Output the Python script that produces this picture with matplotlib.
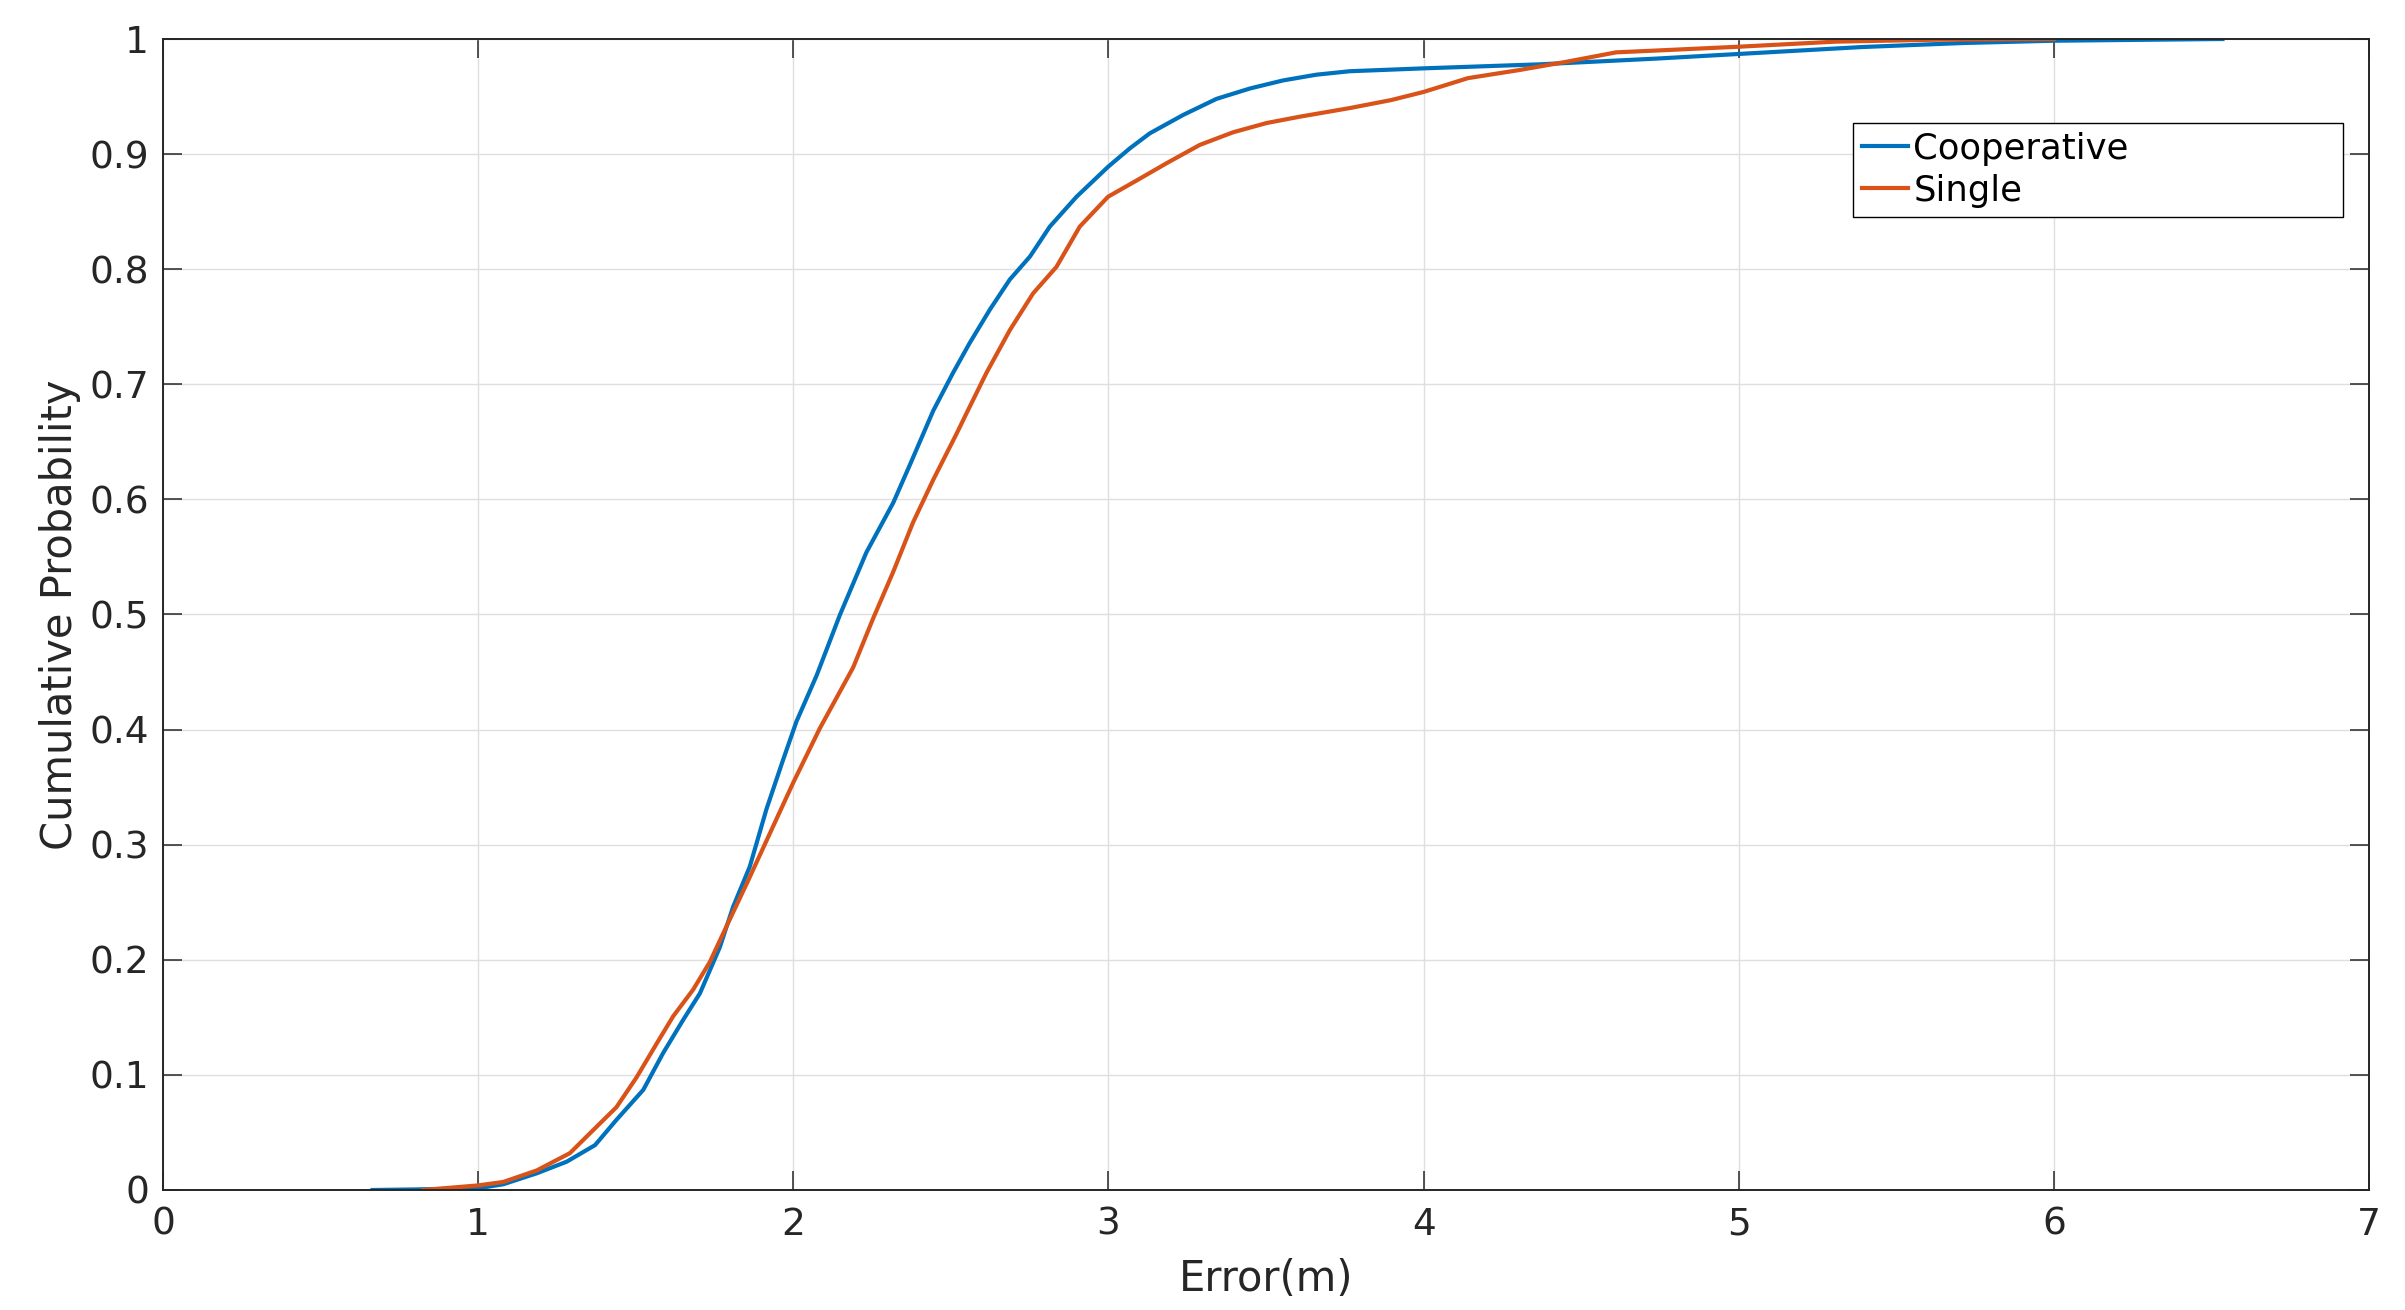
import matplotlib
matplotlib.use("Agg")
import matplotlib.pyplot as plt
from matplotlib.ticker import FuncFormatter

coop_x = [0.665, 0.80, 1.0, 1.08, 1.186, 1.281, 1.371, 1.439, 1.524, 1.587, 1.651, 1.704, 1.767, 1.809,
          1.862, 1.915, 1.968, 2.010, 2.074, 2.148, 2.232, 2.317, 2.370, 2.444, 2.507, 2.560, 2.624, 2.687,
          2.751, 2.814, 2.899, 2.999, 3.068, 3.131, 3.237, 3.343, 3.449, 3.554, 3.660, 3.766, 4.0, 4.37,
          4.74, 5.0, 5.39, 5.71, 6.0, 6.535]
coop_y = [0.0, 0.0005, 0.0015, 0.005, 0.0145, 0.0246, 0.039, 0.061, 0.087, 0.119, 0.148, 0.171, 0.211, 0.246,
          0.281, 0.331, 0.374, 0.407, 0.447, 0.4997, 0.554, 0.597, 0.630, 0.677, 0.710, 0.736, 0.765, 0.791,
          0.811, 0.837, 0.863, 0.889, 0.905, 0.918, 0.934, 0.948, 0.957, 0.964, 0.969, 0.972, 0.9745, 0.978,
          0.983, 0.987, 0.993, 0.9965, 0.9985, 1.0]

single_x = [0.826, 1.0, 1.08, 1.186, 1.291, 1.376, 1.439, 1.503, 1.566, 1.619, 1.682, 1.735, 1.788, 1.857,
            2.0, 2.084, 2.190, 2.254, 2.317, 2.380, 2.444, 2.518, 2.550, 2.613, 2.687, 2.761, 2.835, 2.909,
            2.999, 3.089, 3.184, 3.290, 3.396, 3.502, 3.607, 3.766, 3.898, 4.0, 4.141, 4.303, 4.449, 4.611,
            4.74, 5.0, 5.307, 5.63, 6.0]
single_y = [0.0, 0.004, 0.007, 0.017, 0.032, 0.055, 0.072, 0.098, 0.127, 0.151, 0.174, 0.198, 0.229, 0.269,
            0.354, 0.401, 0.454, 0.497, 0.537, 0.580, 0.617, 0.657, 0.675, 0.710, 0.747, 0.779, 0.802, 0.837,
            0.863, 0.877, 0.892, 0.908, 0.919, 0.927, 0.9325, 0.940, 0.947, 0.954, 0.966, 0.973, 0.980, 0.9884,
            0.990, 0.9933, 0.9977, 0.9994, 1.0]

labels = ["Cooperative", "Single"]
x_ticks = [0, 1, 2, 3, 4, 5, 6, 7]
y_ticks = [0, 0.1, 0.2, 0.3, 0.4, 0.5, 0.6, 0.7, 0.8, 0.9, 1]

plt.rcParams['font.family'] = ['DejaVu Sans']
dark = '#262626'

fig = plt.figure(figsize=(24.05, 13.10), dpi=100)
ax = fig.add_axes([163 / 2405, 1 - 1190 / 1310, 2206 / 2405, 1151 / 1310])

ax.plot(coop_x, coop_y, color='#0072BD', lw=3.0, label=labels[0])
ax.plot(single_x, single_y, color='#D95319', lw=3.0, label=labels[1])

ax.set_xlim(0, 7)
ax.set_ylim(0, 1)
ax.set_xticks(x_ticks)
ax.set_yticks(y_ticks)
ax.yaxis.set_major_formatter(FuncFormatter(lambda v, p: '%g' % v))
ax.grid(True, color='#dfdfdf', lw=1.0)
ax.set_axisbelow(True)

ax.tick_params(direction='in', top=True, right=True, length=14, width=1.1, colors=dark,
               labelsize=27, labelcolor=dark)
ax.tick_params(axis='x', pad=12)
ax.tick_params(axis='y', pad=10)
for s in ax.spines.values():
    s.set_color(dark)
    s.set_linewidth(1.4)

ax.set_xlabel('Error(m)', fontsize=30, color=dark, labelpad=11)
ax.set_ylabel('Cumulative Probability', fontsize=30, color=dark, labelpad=6)

leg = ax.legend(loc='upper left', bbox_to_anchor=(0.7661, 0.8462, 0.2221, 0.0808), mode='expand',
                borderaxespad=0, fontsize=25.5, handlelength=1.3, handletextpad=0.15, borderpad=0.25,
                labelspacing=0.22, fancybox=False, framealpha=1)
leg.get_frame().set_edgecolor('black')
leg.get_frame().set_linewidth(1.0)

fig.savefig('out.png', dpi=100, facecolor='white')
